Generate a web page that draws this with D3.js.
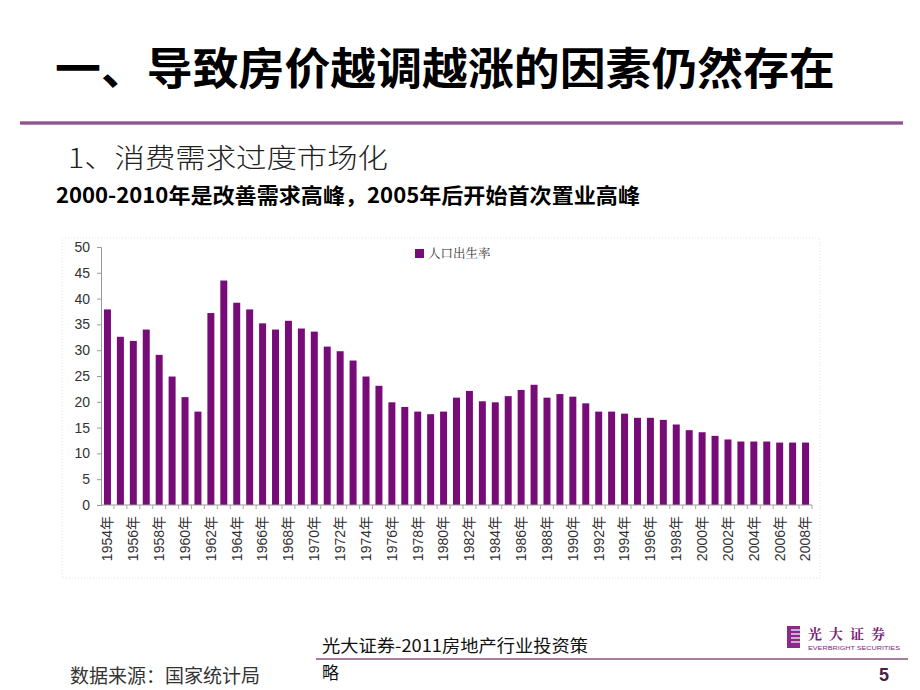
<!DOCTYPE html>
<html><head><meta charset="utf-8">
<script src="https://cdn.jsdelivr.net/npm/d3@7/dist/d3.min.js"></script>
<style>
html,body{margin:0;padding:0;background:#fff;}
svg{display:block;}
</style></head>
<body>
<svg id="c" width="920" height="690"></svg>
<script>
const years = d3.range(1954, 2009).map(String);
const birthRate = [37.9,32.6,31.8,34.0,29.1,24.9,20.9,18.1,37.2,43.5,39.2,37.9,35.2,34.0,35.7,34.2,33.6,30.7,29.8,28.0,24.9,23.1,19.9,19.0,18.1,17.6,18.1,20.8,22.1,20.1,19.9,21.1,22.3,23.3,20.8,21.5,21.0,19.7,18.1,18.1,17.7,16.9,16.9,16.5,15.6,14.5,14.1,13.4,12.7,12.3,12.3,12.3,12.1,12.1,12.1];
const yTicks = [0,5,10,15,20,25,30,35,40,45,50];
const seriesName = "人口出生率";
const title = "一、导致房价越调越涨的因素仍然存在";
const subTitle = "1、消费需求过度市场化";
const note = "2000-2010年是改善需求高峰，2005年后开始首次置业高峰";
const footer1 = "光大证券-2011房地产行业投资策";
const footer2 = "略";
const source = "数据来源：国家统计局";
const pageNo = "5";

const svg = d3.select("#c");
const purple = "#770b78";
const sans = "'Noto Sans CJK SC','Noto Sans',sans-serif";
const serif = "'Noto Serif CJK SC','Noto Sans CJK SC',serif";

// Title
svg.append("text").attr("x",55).attr("y",85).attr("font-family",sans).attr("font-weight","bold")
  .attr("font-size",44).attr("fill","#000").attr("textLength",780).attr("lengthAdjust","spacingAndGlyphs").text(title);
// separator line
const grad = svg.append("defs").append("linearGradient").attr("id","lg").attr("x1","0").attr("x2","0").attr("y1","0").attr("y2","1");
grad.append("stop").attr("offset","0").attr("stop-color","#c8a0c8");
grad.append("stop").attr("offset","0.5").attr("stop-color","#7a3a7a");
grad.append("stop").attr("offset","1").attr("stop-color","#c8a0c8");
svg.append("rect").attr("x",20).attr("y",121).attr("width",883).attr("height",4).attr("fill","url(#lg)");
// subtitle
svg.append("text").attr("x",68).attr("y",168).attr("font-family",sans).attr("font-size",27).attr("font-weight",300)
  .attr("fill","#222").attr("textLength",320).attr("lengthAdjust","spacingAndGlyphs").text(subTitle);
svg.append("text").attr("x",56).attr("y",203).attr("font-family",sans).attr("font-size",21).attr("font-weight","bold")
  .attr("fill","#000").attr("textLength",584).attr("lengthAdjust","spacingAndGlyphs").text(note);

// chart frame (faint)
svg.append("rect").attr("x",62).attr("y",238).attr("width",758).attr("height",340)
  .attr("fill","none").attr("stroke","#e4e4e4").attr("stroke-dasharray","1,2");

const x = d3.scaleBand().domain(years).range([101,812]).paddingInner(0.46).paddingOuter(0.23);
const y = d3.scaleLinear().domain([0,50]).range([505,247]);

svg.append("g").selectAll("rect").data(years).join("rect")
  .attr("x",d=>x(d)).attr("width",x.bandwidth())
  .attr("y",(d,i)=>y(birthRate[i])).attr("height",(d,i)=>y(0)-y(birthRate[i]))
  .attr("fill",purple);

// y axis
const ya = svg.append("g").attr("transform","translate(101,0)")
  .call(d3.axisLeft(y).tickValues(yTicks).tickSize(4).tickPadding(7));
ya.selectAll("path,line").attr("stroke","#999");
ya.selectAll("text").attr("font-family","Arial,'Liberation Sans',sans-serif").attr("font-size",14).attr("fill","#333");

// x axis
const xa = svg.append("g").attr("transform","translate(0,505)")
  .call(d3.axisBottom(x).tickValues(years.filter((d,i)=>i%2===0)).tickSize(0).tickFormat(d=>d+"年"));
xa.select("path").attr("stroke","#999").attr("d","M101,0H812");
xa.selectAll("text").attr("font-family","Arial,'Noto Sans CJK SC',sans-serif").attr("font-size",14).attr("fill","#333")
  .attr("transform","rotate(-90)").attr("text-anchor","end").attr("dx","-11").attr("dy","0.35em")
  .attr("x",0).attr("y",0);
// boundary ticks
svg.append("g").selectAll("line").data(years).join("line")
  .attr("x1",d=>x(d)+x.bandwidth()+(x.step()-x.bandwidth())/2)
  .attr("x2",d=>x(d)+x.bandwidth()+(x.step()-x.bandwidth())/2)
  .attr("y1",505).attr("y2",509).attr("stroke","#aaa");

// legend
svg.append("rect").attr("x",415).attr("y",249).attr("width",9).attr("height",9).attr("fill",purple);
svg.append("text").attr("x",428).attr("y",258).attr("font-family",serif).attr("font-size",12.5).attr("fill","#333").text(seriesName);

// footer
svg.append("text").attr("x",322).attr("y",652).attr("font-family",sans).attr("font-size",17).attr("fill","#111")
  .attr("textLength",266).attr("lengthAdjust","spacingAndGlyphs").text(footer1);
svg.append("line").attr("x1",316).attr("x2",908).attr("y1",659).attr("y2",659).attr("stroke","#8a4f8a").attr("stroke-width",1.5);
svg.append("text").attr("x",322).attr("y",679).attr("font-family",sans).attr("font-size",17).attr("fill","#111").text(footer2);
svg.append("text").attr("x",70).attr("y",683).attr("font-family",sans).attr("font-size",19).attr("fill","#333").text(source);
svg.append("text").attr("x",879).attr("y",681).attr("font-family","Arial,'Liberation Sans',sans-serif").attr("font-weight","bold")
  .attr("font-size",18).attr("fill","#4a1f4a").text(pageNo);

// logo
const logo = svg.append("g");
logo.append("rect").attr("x",787).attr("y",626).attr("width",13).attr("height",22).attr("fill","#8a2a8a");
[630,634,638,642].forEach(yy=>logo.append("line").attr("x1",791).attr("x2",800).attr("y1",yy).attr("y2",yy).attr("stroke","#fff").attr("stroke-width",1.2));
logo.append("text").attr("x",808).attr("y",639).attr("font-family",serif).attr("font-weight","bold").attr("font-size",14)
  .attr("fill","#7a1f7a").attr("letter-spacing",7).text("光大证券");
logo.append("text").attr("x",808).attr("y",650).attr("font-family","Arial,sans-serif").attr("font-size",4.5)
  .attr("fill","#7a1f7a").attr("textLength",92).attr("lengthAdjust","spacingAndGlyphs").text("EVERBRIGHT SECURITIES");
</script>
</body></html>
